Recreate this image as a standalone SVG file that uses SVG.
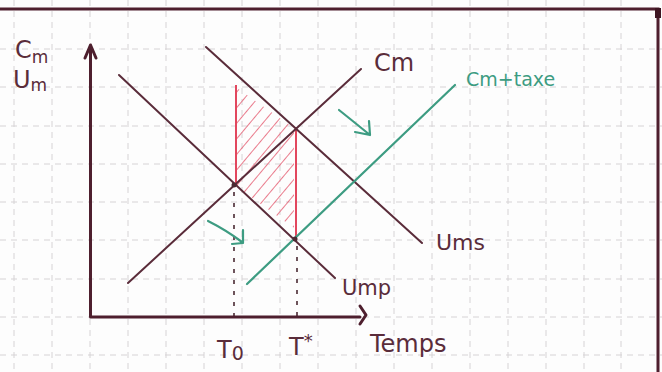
<svg xmlns="http://www.w3.org/2000/svg" width="662" height="372" viewBox="0 0 662 372">
<defs>
<style>
.grid{stroke:#d6d3d5;stroke-width:1;stroke-dasharray:6 5;fill:none}
.ink{stroke:#5a2c3a;stroke-width:2;fill:none;stroke-linecap:round}
.axis{stroke:#4e1f2e;stroke-width:3;fill:none;stroke-linecap:round;stroke-linejoin:round}
.red{stroke:#e2475e;stroke-width:2;fill:none}
.green{stroke:#3d9c82;stroke-width:2.2;fill:none;stroke-linecap:round;stroke-linejoin:round}
.dash{stroke:#4a2a33;stroke-width:1.6;stroke-dasharray:4 7;fill:none}
.lbl{font-family:"DejaVu Sans","Liberation Sans",sans-serif;fill:#5a2c3a}
.glbl{font-family:"DejaVu Sans","Liberation Sans",sans-serif;fill:#3d9c82}
</style>
<pattern id="hatch" width="10" height="10" patternUnits="userSpaceOnUse" patternTransform="rotate(40)">
<line x1="0" y1="0" x2="0" y2="10" stroke="#e55a70" stroke-width="1.6"/>
</pattern>
</defs>
<rect width="662" height="372" fill="#fdfdfd"/>
<g id="grid" class="grid">
<path d="M14,0V372M52,0V372M90,0V372M128,0V372M166,0V372M204,0V372M242,0V372M280,0V372M318,0V372M356,0V372M394,0V372M432,0V372M470,0V372M508,0V372M546,0V372M584,0V372M621,0V372"/>
<path d="M0,49H662M0,87H662M0,126H662M0,164H662M0,202H662M0,240H662M0,279H662M0,317H662M0,355H662"/>
</g>
<g id="frame">
<path d="M0,9H658V372" stroke="#4e1f2e" stroke-width="3" fill="none"/>
<rect x="655" y="8" width="6" height="10" fill="#3e1522"/>
</g>
<g id="hatched-area">
<polygon points="237,88 294,128 294,228 237,187" fill="url(#hatch)"/>
</g>
<g id="connectors">
<line class="red" x1="236" y1="85" x2="236" y2="186"/>
<line class="red" x1="296" y1="127" x2="296" y2="240"/>
<line class="dash" x1="234" y1="192" x2="234" y2="316"/>
<line class="dash" x1="297" y1="246" x2="297" y2="316"/>
</g>
<g id="axes">
<path class="axis" d="M90.5,46V317H360"/>
<path class="axis" d="M85,58L90.5,45L96,58" stroke-width="2.5"/>
<path class="axis" d="M360,306L366,315L360,324" stroke-width="2.5"/>
<text class="lbl" x="15" y="58" font-size="24">C<tspan font-size="17" dy="5">m</tspan></text>
<text class="lbl" x="13" y="88" font-size="24">U<tspan font-size="17" dy="3">m</tspan></text>
<text class="lbl" x="370" y="352" font-size="24">Temps</text>
</g>
<g id="Ump">
<line class="ink" x1="119" y1="75" x2="335" y2="278"/>
<text class="lbl" x="342" y="295" font-size="21">Ump</text>
</g>
<g id="Ums">
<line class="ink" x1="206" y1="47" x2="422" y2="243"/>
<text class="lbl" x="436" y="250" font-size="22">Ums</text>
</g>
<g id="Cm">
<line class="ink" x1="128" y1="283" x2="361" y2="69"/>
<text class="lbl" x="374" y="71" font-size="24">Cm</text>
</g>
<g id="Cm-taxe">
<line class="green" x1="247" y1="284" x2="455" y2="85"/>
<text class="glbl" x="466" y="86" font-size="19">Cm+taxe</text>
</g>
<g id="shift-arrows">
<path class="green" d="M339,110Q354,122 370,135M355,132L370,135L369,121" stroke-width="2.8"/>
<path class="green" d="M208,221Q226,230 242,242M232,244L243,243L243,230" stroke-width="2.8"/>
</g>
<g id="points">
<circle cx="234" cy="185" r="2.5" fill="#4a2a33"/>
<circle cx="295" cy="239" r="2.5" fill="#4a2a33"/>
<text class="lbl" x="217" y="358" font-size="24">T<tspan font-size="19" dy="2">0</tspan></text>
<text class="lbl" x="289" y="355" font-size="24">T<tspan font-size="18" dy="-8">*</tspan></text>
</g>
</svg>
